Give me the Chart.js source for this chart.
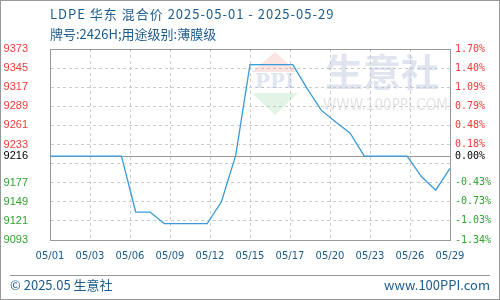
<!DOCTYPE html>
<html>
<head>
<meta charset="utf-8">
<script src="https://cdn.jsdelivr.net/npm/chart.js@4"></script>
<style>
  html, body { margin: 0; padding: 0; background: #fff; }
  canvas { display: block; }
</style>
</head>
<body>
<canvas id="priceChart" width="500" height="300"></canvas>
<script>
// daily dates and prices (yuan/ton)
const dates = ["05/01", "05/02", "05/03", "05/04", "05/05", "05/06", "05/07", "05/08", "05/09", "05/10",
  "05/11", "05/12", "05/13", "05/14", "05/15", "05/16", "05/17", "05/18", "05/19", "05/20",
  "05/21", "05/22", "05/23", "05/24", "05/25", "05/26", "05/27", "05/28", "05/29"];
const prices = [9216, 9216, 9216, 9216, 9216, 9216, 9134, 9134, 9117, 9117,
  9117, 9117, 9149, 9217, 9350, 9350, 9350, 9350, 9315, 9283,
  9266, 9250, 9216, 9216, 9216, 9216, 9186, 9166, 9198];

const xTickLabels = ["05/01", "05/03", "05/06", "05/09", "05/12", "05/15", "05/17", "05/20", "05/23", "05/26", "05/29"];
const priceTicks = [9373, 9345, 9317, 9289, 9261, 9233, 9216, 9177, 9149, 9121, 9093];
const pctTicks = ["1.70%", "1.40%", "1.09%", "0.79%", "0.48%", "0.18%", "0.00%", "-0.43%", "-0.73%", "-1.03%", "-1.34%"];
const basePrice = 9216;

const yMin = Math.min(...priceTicks), yMax = Math.max(...priceTicks);
const step = 28;
const gridValues = [];
for (let v = yMin; v <= yMax; v += step) gridValues.push(v);
if (!gridValues.includes(basePrice)) gridValues.push(basePrice);

const RED = "#f03a36", GREEN = "#2fa52f", BLUE_TXT = "#1d5b8c";

function tickColor(ctx) {
  const v = ctx.tick ? ctx.tick.value : 0;
  if (v === basePrice) return "#000";
  return v > basePrice ? RED : GREEN;
}

const decor = {
  id: "decor",
  beforeDatasetsDraw(chart) {
    const c = chart.ctx;
    c.save();
    // watermark logo
    c.fillStyle = "rgba(240,150,140,0.25)";
    c.beginPath(); c.moveTo(252, 72); c.lineTo(275, 52); c.lineTo(298, 72); c.closePath(); c.fill();
    c.fillStyle = "rgba(140,210,150,0.25)";
    c.beginPath(); c.moveTo(252, 93); c.lineTo(298, 93); c.lineTo(275, 115); c.closePath(); c.fill();
    c.fillStyle = "rgba(150,170,210,0.3)";
    c.font = "bold 20px 'DejaVu Serif'";
    c.textBaseline = "middle";
    c.fillText("PPI", 255, 83, 43);
    c.fillStyle = "rgba(185,195,220,0.45)";
    c.font = "bold 38px 'Noto Sans CJK SC'";
    c.fillText("生意社", 325, 72, 123);
    c.fillStyle = "rgba(200,200,200,0.5)";
    c.font = "15px 'DejaVu Sans'";
    c.fillText("WWW.100PPI.COM", 323, 106, 125);
    c.restore();
  },
  afterDraw(chart) {
    const c = chart.ctx;
    c.save();
    c.fillStyle = BLUE_TXT;
    c.font = "13px 'Noto Sans CJK SC'";
    c.textBaseline = "middle";
    c.letterSpacing = "1px";
    c.fillText("LDPE 华东 混合价 2025-05-01 - 2025-05-29", 50, 14);
    c.letterSpacing = "0px";
    c.fillText("牌号:2426H;用途级别:薄膜级", 50, 34);
    c.fillText("© 2025.05 生意社", 10, 285);
    c.textAlign = "right";
    c.fillText("www.100PPI.com", 490, 285);
    c.strokeStyle = "#999";
    c.lineWidth = 1;
    c.beginPath(); c.moveTo(10, 275.5); c.lineTo(490, 275.5); c.stroke();
    c.strokeRect(0.5, 0.5, 499, 299);
    c.restore();
  }
};

new Chart(document.getElementById("priceChart"), {
  type: "line",
  data: {
    datasets: [{
      data: prices.map((p, i) => ({ x: i, y: p })),
      borderColor: "#3a9ad9",
      borderWidth: 1.3,
      pointRadius: 0,
      tension: 0,
      yAxisID: "y"
    }]
  },
  options: {
    responsive: false,
    animation: false,
    layout: { padding: { top: 49, left: 0, right: 0, bottom: 0 } },
    plugins: { legend: { display: false }, tooltip: { enabled: false } },
    scales: {
      x: {
        type: "linear",
        min: 0,
        max: dates.length - 1,
        afterBuildTicks: s => {
          s.ticks = xTickLabels.map((l, i) => ({ value: i * (dates.length - 1) / (xTickLabels.length - 1) }));
        },
        afterFit: s => { s.height = 60; },
        ticks: {
          autoSkip: false,
          maxRotation: 0,
          padding: 10,
          color: BLUE_TXT,
          font: { family: "DejaVu Sans", size: 10 },
          callback: (v, i) => xTickLabels[i]
        },
        grid: { color: "#ccc", drawTicks: false },
        border: { color: "#999", dash: ctx => ctx.tick ? [3, 3] : [] }
      },
      y: {
        position: "left",
        min: yMin,
        max: yMax,
        afterBuildTicks: s => { s.ticks = gridValues.map(v => ({ value: v })); },
        afterFit: s => { s.width = 50; },
        ticks: {
          padding: 22,
          color: tickColor,
          font: { family: "Liberation Sans", size: 11 },
          callback: v => priceTicks.includes(v) ? String(v) : ""
        },
        grid: {
          drawTicks: false,
          color: ctx => (ctx.tick && (ctx.tick.value === basePrice || ctx.tick.value === yMax)) ? "#999" : "#ccc"
        },
        border: {
          color: "#999",
          dash: ctx => (ctx.tick && ctx.tick.value !== basePrice && ctx.tick.value !== yMax) ? [3, 3] : []
        }
      },
      y2: {
        position: "right",
        min: yMin,
        max: yMax,
        afterBuildTicks: s => { s.ticks = gridValues.map(v => ({ value: v })); },
        afterFit: s => { s.width = 50; },
        ticks: {
          padding: 5,
          color: tickColor,
          font: { family: "DejaVu Sans Mono", size: 10 },
          callback: v => {
            const i = priceTicks.indexOf(v);
            return i >= 0 ? pctTicks[i] : "";
          }
        },
        grid: { drawOnChartArea: false, drawTicks: false },
        border: { color: "#999" }
      }
    }
  },
  plugins: [decor]
});
</script>
</body>
</html>
